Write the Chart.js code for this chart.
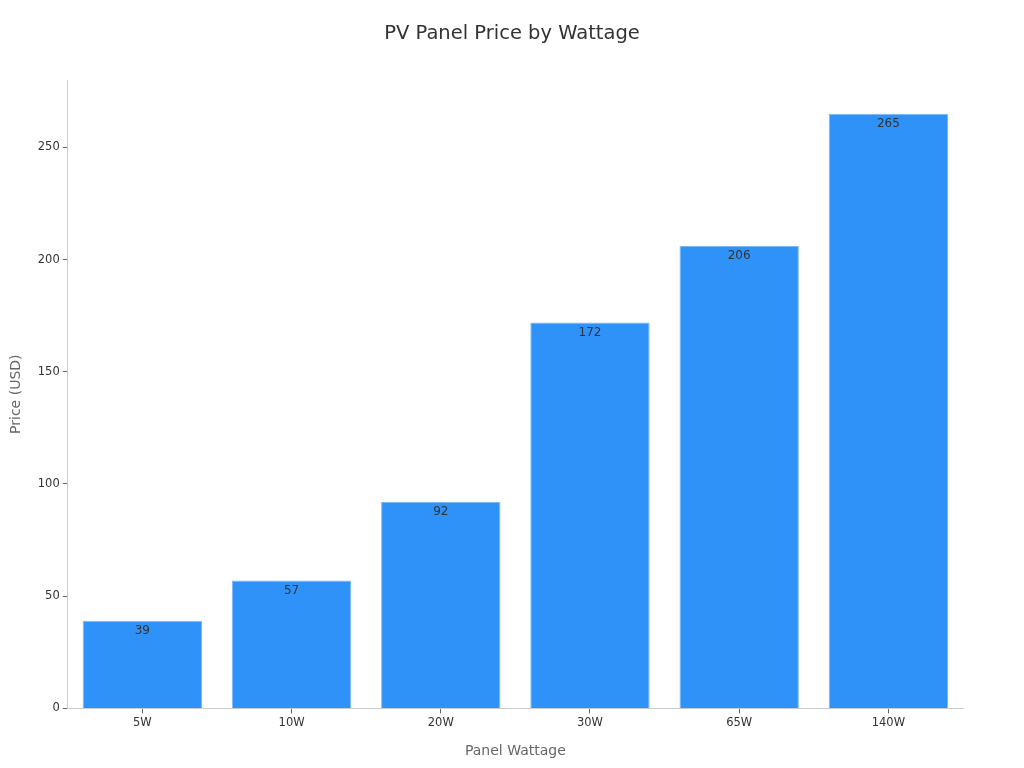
<!DOCTYPE html>
<html><head><meta charset="utf-8">
<script src="https://cdn.jsdelivr.net/npm/chart.js@4"></script>
<style>html,body{margin:0;padding:0;background:#fff}#w{width:1024px;height:768px}</style>
</head><body><div id="w"><canvas id="c"></canvas></div>
<script>
const categories = ["5W","10W","20W","30W","65W","140W"];
const prices = [39,57,92,172,206,265];
const tickValues = [0,50,100,150,200,250];
const chartTitle = 'PV Panel Price by Wattage';

Chart.defaults.font.family = "DejaVu Sans";
const labelPlugin = {
  id:'labels',
  afterDatasetsDraw(chart){
    const ctx = chart.ctx;
    const meta = chart.getDatasetMeta(0);
    ctx.save();
    ctx.font = "12px DejaVu Sans";
    ctx.fillStyle = "#333";
    ctx.textAlign = "center";
    ctx.textBaseline = "top";
    meta.data.forEach((b,i)=>{ ctx.fillText(String(prices[i]), b.x, b.y+4); });
    ctx.font = "19.5px DejaVu Sans";
    ctx.textBaseline = "middle";
    ctx.fillText(chartTitle, chart.width/2, 34);
    ctx.restore();
  }
};
new Chart(document.getElementById('c'), {
  type:'bar',
  data:{labels:categories, datasets:[{data:prices, backgroundColor:'#2f92f8', borderColor:'#7ab8f5', borderWidth:1, barPercentage:0.8, categoryPercentage:1}]},
  options:{
    responsive:true, maintainAspectRatio:false, animation:false,
    layout:{padding:{left:4,right:61,top:80,bottom:4}},
    plugins:{legend:{display:false}, tooltip:{enabled:false}, title:{display:false}},
    scales:{
      x:{grid:{display:true, offset:false, drawOnChartArea:false, tickLength:5, color:'#666'}, border:{color:'#ccc'},
        ticks:{color:'#333', font:{size:11.5}},
        title:{display:true, text:'Panel Wattage', color:'#666', font:{size:14}, padding:{top:10}}},
      y:{min:0, max:280, grid:{display:true, drawOnChartArea:false, tickLength:5, color:'#666'}, border:{color:'#ccc'},
        afterBuildTicks(s){ s.ticks = tickValues.map(v=>({value:v})); },
        ticks:{color:'#333', font:{size:11.5}},
        title:{display:true, text:'Price (USD)', color:'#666', font:{size:14}, padding:{bottom:10}}}
    }
  },
  plugins:[labelPlugin]
});
</script></body></html>
